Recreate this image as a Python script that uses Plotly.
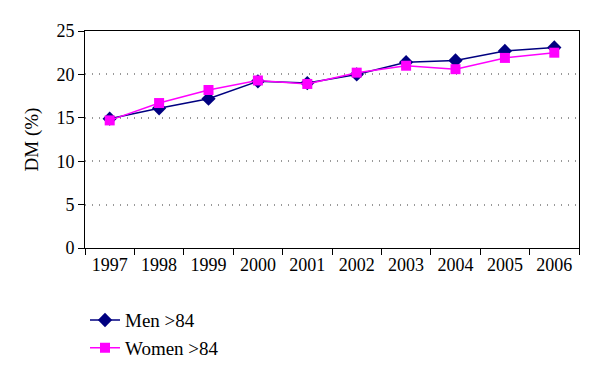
import plotly.graph_objects as go

years = ["1997", "1998", "1999", "2000", "2001", "2002", "2003", "2004", "2005", "2006"]
men = [14.9, 16.1, 17.2, 19.2, 19.0, 20.0, 21.4, 21.6, 22.7, 23.1]
women = [14.7, 16.7, 18.2, 19.3, 18.9, 20.2, 21.0, 20.6, 21.9, 22.5]

font = "'Liberation Serif', 'DejaVu Serif', 'Times New Roman', serif"

fig = go.Figure()
fig.add_trace(go.Scatter(x=years, y=men, mode="lines+markers", name="Men >84",
                         line=dict(color="#000080", width=1.5),
                         marker=dict(symbol="diamond", size=11, color="#000080")))
fig.add_trace(go.Scatter(x=years, y=women, mode="lines+markers", name="Women >84",
                         line=dict(color="#FF00FF", width=1.5),
                         marker=dict(symbol="square", size=10, color="#FF00FF")))

fig.update_layout(
    width=592, height=370,
    margin=dict(l=77, r=21, t=23, b=130, autoexpand=False),
    paper_bgcolor="white", plot_bgcolor="white",
    font=dict(family=font, size=18, color="black"),
    showlegend=True,
    legend=dict(x=0.0, y=-0.245, xanchor="left", yanchor="top",
                font=dict(family=font, size=19), bgcolor="rgba(0,0,0,0)",
                tracegroupgap=0, itemwidth=30),
    xaxis=dict(type="category", range=[-0.5, 9.5], tickson="boundaries",
               ticks="outside", ticklen=6, tickcolor="black",
               showline=True, linecolor="black", linewidth=1, mirror=True,
               showgrid=False, tickfont=dict(size=18), automargin=False),
    yaxis=dict(range=[0, 25], dtick=5, ticks="outside", ticklen=6, tickcolor="black",
               showline=True, linecolor="black", linewidth=1, mirror=True,
               showgrid=True, gridcolor="#999999", griddash="1px,6px", gridwidth=1.5,
               zeroline=False, tickfont=dict(size=18), automargin=False,
               title=dict(text="DM (%)", font=dict(size=19), standoff=12)),
)

fig.write_html("out.html")
